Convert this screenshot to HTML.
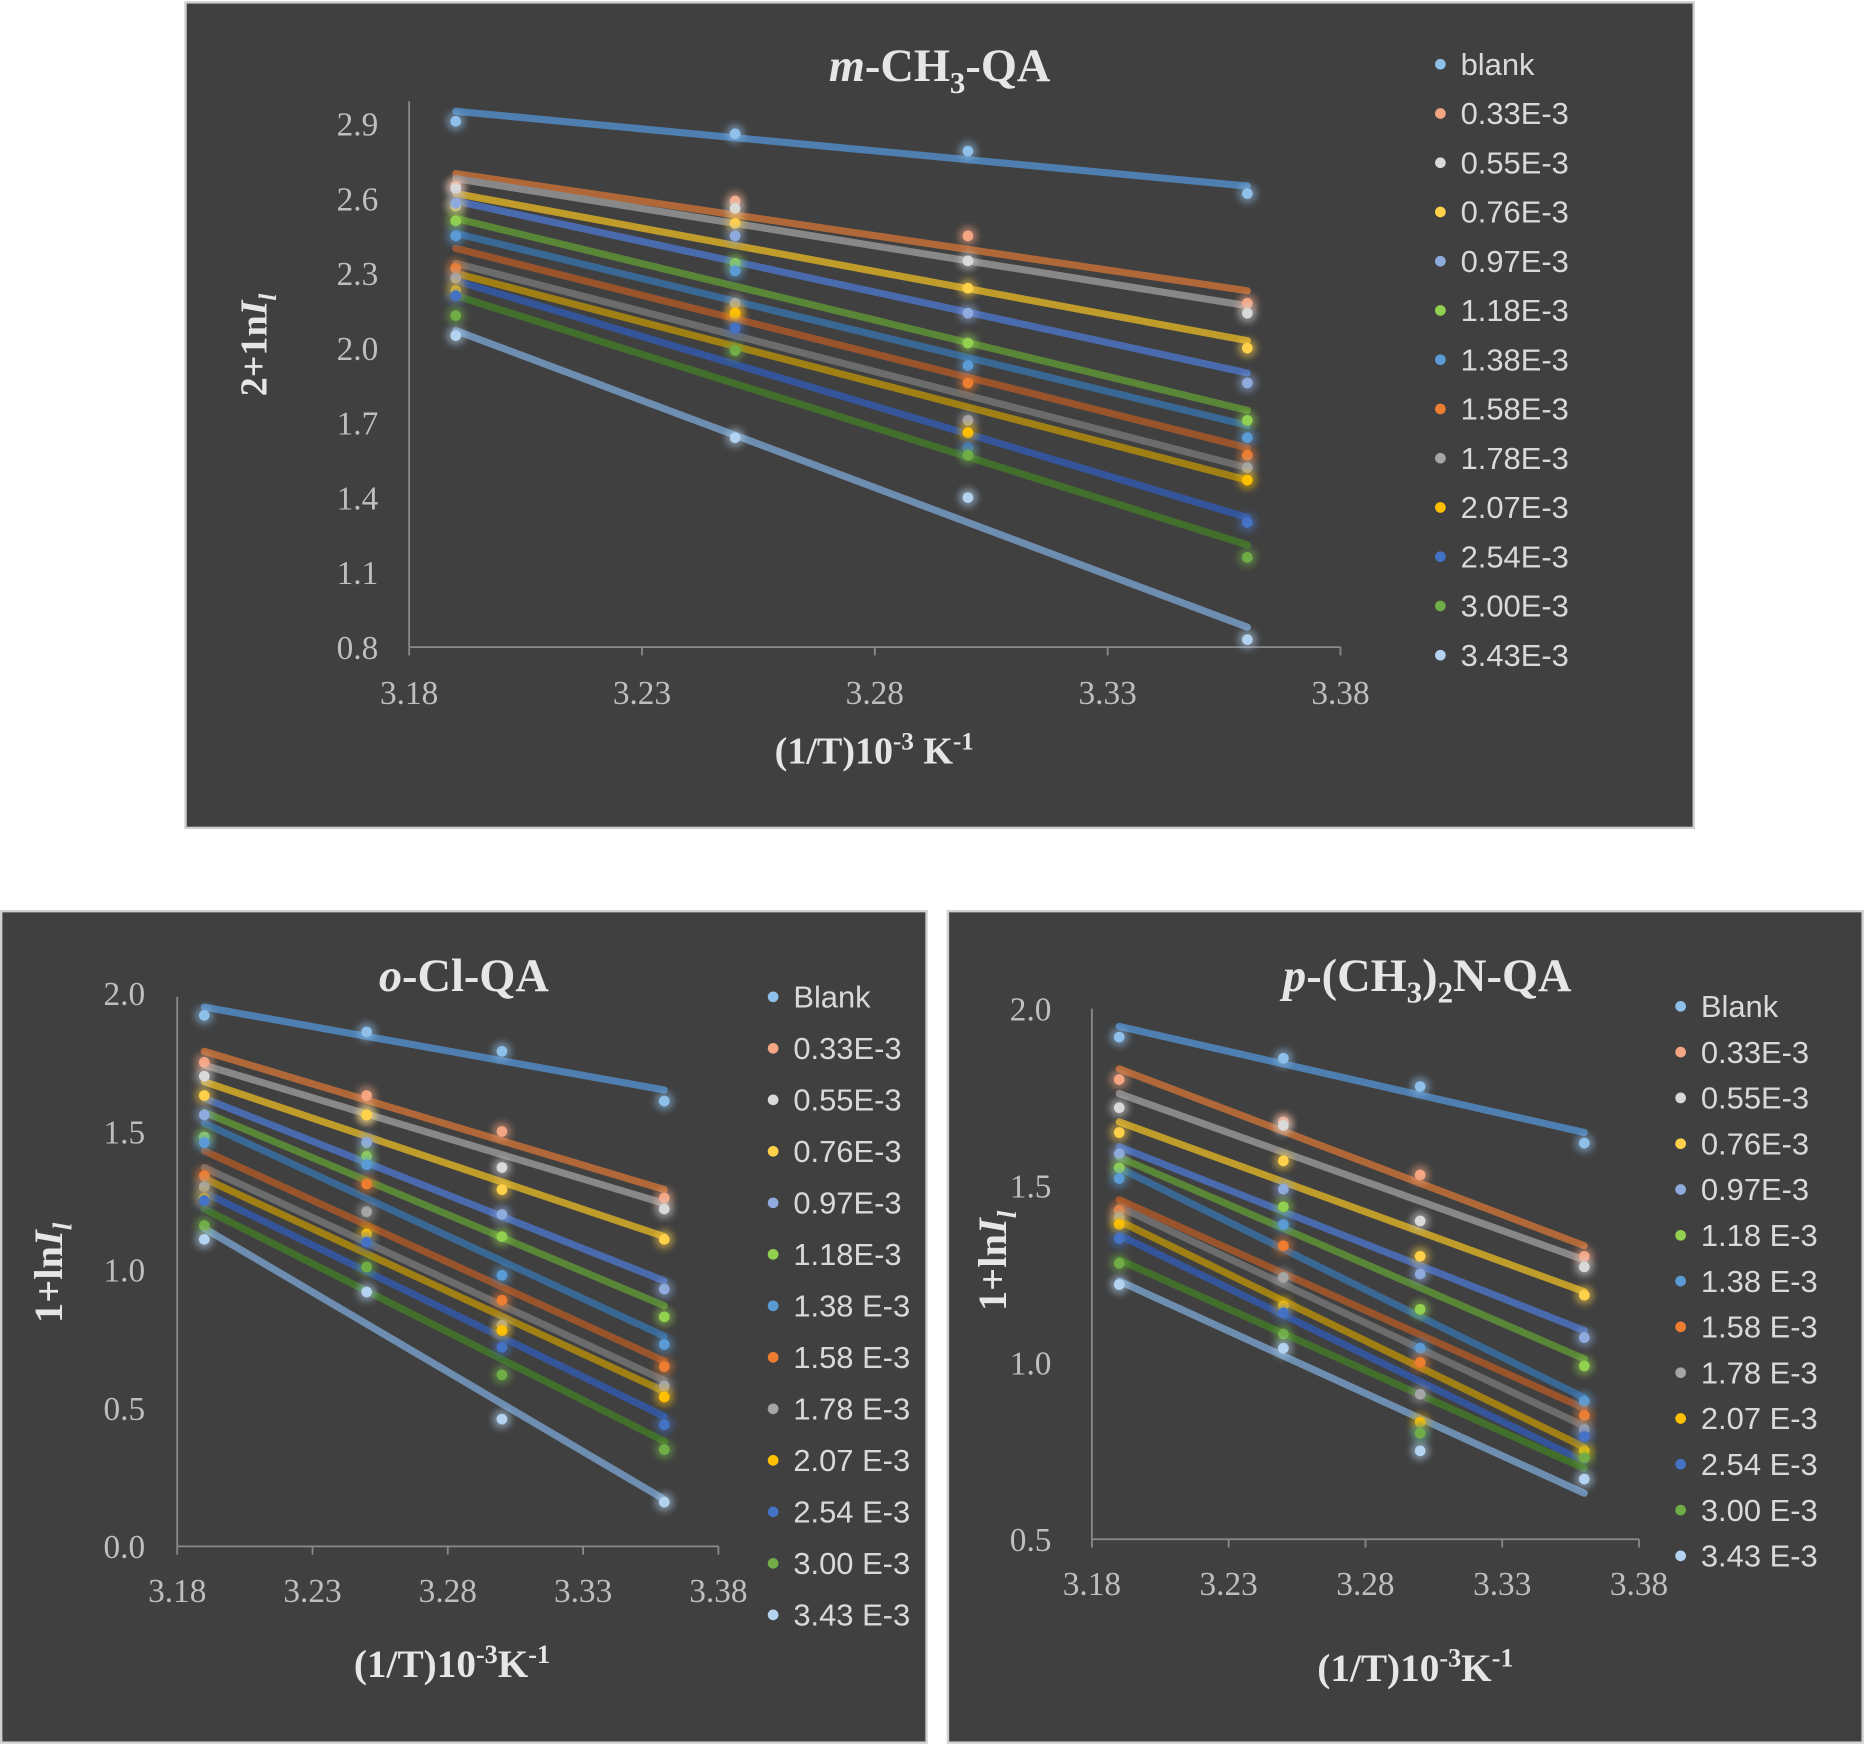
<!DOCTYPE html>
<html><head><meta charset="utf-8"><style>
html,body{margin:0;padding:0;background:#fff;}
svg{display:block;}
text{font-family:"Liberation Serif",serif;}
.lg{font-family:"Liberation Sans",sans-serif;fill:#d9d9d9;font-size:26px;}
.tk{fill:#bfbfbf;font-size:28px;}
.tt{fill:#e6e6e6;font-weight:bold;}
</style></head><body>
<svg id="s" width="1865" height="1745" viewBox="0 0 1568 1467" preserveAspectRatio="none" xmlns="http://www.w3.org/2000/svg">
<defs><filter id="g" x="-2" y="-2" width="5" height="5"><feGaussianBlur stdDeviation="3"/></filter></defs>
<rect x="156" y="2" width="1268" height="694" fill="#404040" stroke="#d0d0d0" stroke-width="2"/>
<rect x="1" y="766" width="778" height="699" fill="#404040" stroke="#d0d0d0" stroke-width="2"/>
<rect x="797" y="766" width="769" height="699" fill="#404040" stroke="#d0d0d0" stroke-width="2"/>
<text x="790" y="68" text-anchor="middle" class="tt" font-size="39"><tspan font-style="italic">m</tspan>-CH<tspan font-size="26" dy="10">3</tspan><tspan dy="-10">-QA</tspan></text>
<text transform="translate(224,290) rotate(-90)" text-anchor="middle" class="tt" font-size="32" fill="#bfbfbf">2+1n<tspan font-style="italic">I</tspan><tspan font-style="italic" font-size="21" dy="8">l</tspan></text>
<text x="735" y="642" text-anchor="middle" class="tt" font-size="32" fill="#cfcfcf">(1/T)10<tspan font-size="21" dy="-12">-3</tspan><tspan dy="12"> K</tspan><tspan font-size="21" dy="-12">-1</tspan></text>
<text x="390" y="833" text-anchor="middle" class="tt" font-size="39"><tspan font-style="italic">o</tspan>-Cl-QA</text>
<text transform="translate(52,1070) rotate(-90)" text-anchor="middle" class="tt" font-size="34" fill="#bfbfbf">1+ln<tspan font-style="italic">I</tspan><tspan font-style="italic" font-size="23" dy="8">l</tspan></text>
<text x="380" y="1410" text-anchor="middle" class="tt" font-size="33" fill="#cfcfcf">(1/T)10<tspan font-size="22" dy="-12">-3</tspan><tspan dy="12">K</tspan><tspan font-size="22" dy="-12">-1</tspan></text>
<text x="1200" y="833" text-anchor="middle" class="tt" font-size="39"><tspan font-style="italic">p</tspan>-(CH<tspan font-size="26" dy="10">3</tspan><tspan dy="-10">)</tspan><tspan font-size="26" dy="10">2</tspan><tspan dy="-10">N-QA</tspan></text>
<text transform="translate(846,1060) rotate(-90)" text-anchor="middle" class="tt" font-size="34" fill="#bfbfbf">1+ln<tspan font-style="italic">I</tspan><tspan font-style="italic" font-size="23" dy="8">l</tspan></text>
<text x="1190" y="1413" text-anchor="middle" class="tt" font-size="33" fill="#cfcfcf">(1/T)10<tspan font-size="22" dy="-12">-3</tspan><tspan dy="12">K</tspan><tspan font-size="22" dy="-12">-1</tspan></text>
<g id="c"></g>
</svg>
<script>
var dot=["#8fc0ea","#f4a582","#d9d9d9","#ffd04a","#8faadc","#92d050","#5b9bd5","#ed7d31","#a5a5a5","#ffc000","#4472c4","#70ad47","#b4d3f0"];
var ln=["#4e7fb0","#b06838","#888888","#c09c2a","#4a6aae","#5a8638","#3a6895","#9a542c","#6c6c6c","#a08014","#34559a","#42702c","#6d8eb0"];
var charts=[
{x0:344,x1:1127,yb:544,yv0:0.8,ys:209.5,yt:85,ticks:[0.8,1.1,1.4,1.7,2.0,2.3,2.6,2.9],tl:318,xl:592,
lgx:1211,lgy:54,lgs:41.4,names:["blank","0.33E-3","0.55E-3","0.76E-3","0.97E-3","1.18E-3","1.38E-3","1.58E-3","1.78E-3","2.07E-3","2.54E-3","3.00E-3","3.43E-3"],
d:[[2.95,2.65,2.91,2.86,2.79,2.62],[2.70,2.23,2.65,2.59,2.45,2.18],[2.68,2.17,2.64,2.56,2.35,2.14],[2.62,2.03,2.57,2.50,2.24,2.00],[2.59,1.90,2.58,2.45,2.14,1.86],[2.52,1.75,2.51,2.34,2.02,1.71],[2.46,1.69,2.45,2.31,1.93,1.64],[2.40,1.60,2.32,2.13,1.86,1.57],[2.34,1.52,2.28,2.18,1.71,1.52],[2.30,1.47,2.23,2.14,1.66,1.47],[2.27,1.32,2.21,2.08,1.60,1.30],[2.21,1.21,2.13,1.99,1.57,1.16],[2.07,0.88,2.05,1.64,1.40,0.83]]},
{x0:149,x1:604,yb:1300,yv0:0,ys:232.5,yt:838,ticks:[0,0.5,1.0,1.5,2.0],tl:122,xl:1347,
lgx:650,lgy:838,lgs:43.3,names:["Blank","0.33E-3","0.55E-3","0.76E-3","0.97E-3","1.18E-3","1.38 E-3","1.58 E-3","1.78 E-3","2.07 E-3","2.54 E-3","3.00 E-3","3.43 E-3"],
d:[[1.95,1.65,1.92,1.86,1.79,1.61],[1.79,1.29,1.75,1.63,1.50,1.26],[1.74,1.24,1.70,1.56,1.37,1.22],[1.68,1.12,1.63,1.56,1.29,1.11],[1.62,0.96,1.56,1.46,1.20,0.93],[1.57,0.87,1.48,1.41,1.12,0.83],[1.53,0.76,1.46,1.38,0.98,0.73],[1.43,0.67,1.34,1.31,0.89,0.65],[1.37,0.60,1.30,1.21,0.80,0.58],[1.33,0.56,1.26,1.13,0.78,0.54],[1.28,0.47,1.25,1.10,0.72,0.44],[1.22,0.38,1.16,1.01,0.62,0.35],[1.15,0.17,1.11,0.92,0.46,0.16]]},
{x0:918,x1:1378,yb:1294,yv0:0.5,ys:297.3,yt:848,ticks:[0.5,1.0,1.5,2.0],tl:884,xl:1341,
lgx:1413,lgy:846,lgs:38.5,names:["Blank","0.33E-3","0.55E-3","0.76E-3","0.97E-3","1.18 E-3","1.38 E-3","1.58 E-3","1.78 E-3","2.07 E-3","2.54 E-3","3.00 E-3","3.43 E-3"],
d:[[1.95,1.65,1.92,1.86,1.78,1.62],[1.83,1.33,1.80,1.68,1.53,1.30],[1.76,1.29,1.72,1.67,1.40,1.27],[1.68,1.20,1.65,1.57,1.30,1.19],[1.61,1.09,1.59,1.49,1.25,1.07],[1.58,1.01,1.55,1.44,1.15,0.99],[1.55,0.90,1.52,1.39,1.04,0.89],[1.46,0.87,1.43,1.33,1.00,0.85],[1.44,0.82,1.41,1.24,0.91,0.81],[1.40,0.76,1.39,1.16,0.83,0.75],[1.36,0.72,1.35,1.14,0.80,0.79],[1.29,0.70,1.28,1.08,0.80,0.73],[1.23,0.63,1.22,1.04,0.75,0.67]]}];
var h="";
charts.forEach(function(c){
 var X=function(v){return c.x0+(v-3.18)*(c.x1-c.x0)/0.2}, Y=function(v){return c.yb-(v-c.yv0)*c.ys};
 h+='<line x1="'+c.x0+'" y1="'+c.yt+'" x2="'+c.x0+'" y2="'+c.yb+'" stroke="#8a8a8a" stroke-width="1.5"/>';
 h+='<line x1="'+c.x0+'" y1="'+c.yb+'" x2="'+c.x1+'" y2="'+c.yb+'" stroke="#8a8a8a" stroke-width="1.5"/>';
 c.ticks.forEach(function(t){h+='<text class="tk" x="'+c.tl+'" y="'+(Y(t)+10)+'" text-anchor="end">'+t.toFixed(1)+'</text>';});
 [3.18,3.23,3.28,3.33,3.38].forEach(function(t){var x=X(t);h+='<line x1="'+x+'" y1="'+c.yb+'" x2="'+x+'" y2="'+(c.yb+7)+'" stroke="#8a8a8a" stroke-width="1.5"/><text class="tk" x="'+x+'" y="'+c.xl+'" text-anchor="middle">'+t.toFixed(2)+'</text>';});
 c.d.forEach(function(s,i){
  h+='<line x1="'+X(3.19)+'" y1="'+Y(s[0])+'" x2="'+X(3.36)+'" y2="'+Y(s[1])+'" stroke="'+ln[i]+'" stroke-width="6" stroke-linecap="round"/>';
 });
 c.d.forEach(function(s,i){
  [3.19,3.25,3.30,3.36].forEach(function(xv,k){var x=X(xv),y=Y(s[k+2]);
   h+='<circle cx="'+x+'" cy="'+y+'" r="8" fill="'+dot[i]+'" opacity="0.5" filter="url(#g)"/><circle cx="'+x+'" cy="'+y+'" r="4.5" fill="'+dot[i]+'"/>';});
  var ly=c.lgy+i*c.lgs;
  h+='<circle cx="'+c.lgx+'" cy="'+ly+'" r="4.5" fill="'+dot[i]+'"/><text class="lg" x="'+(c.lgx+17)+'" y="'+(ly+9)+'">'+c.names[i]+'</text>';
 });
});
document.getElementById("c").innerHTML=h;
</script>
</body></html>
